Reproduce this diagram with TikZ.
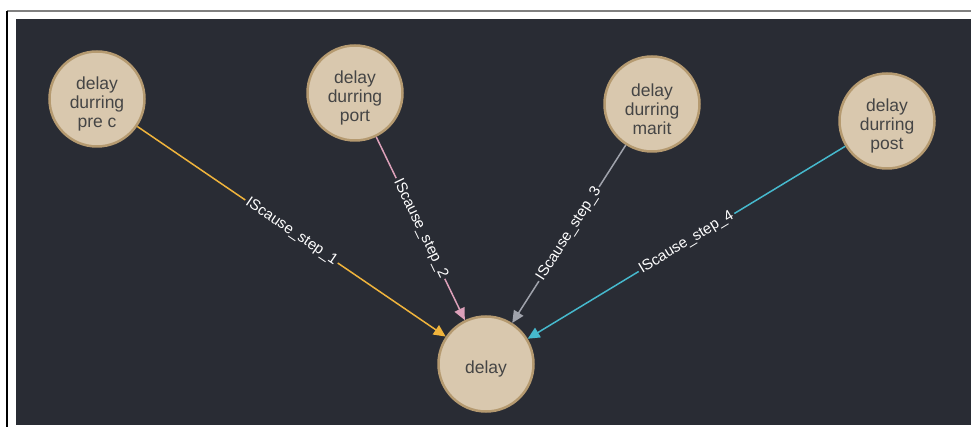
\documentclass[tikz,border=0pt]{standalone}
\usepackage{fontspec}
\setmainfont{Liberation Sans}
\usetikzlibrary{arrows.meta}
\definecolor{bgc}{HTML}{292C34}
\definecolor{nodefill}{HTML}{D9C8AE}
\definecolor{nodeborder}{HTML}{B59A70}
\definecolor{nodetext}{HTML}{454545}
\definecolor{ecyel}{HTML}{F0B43C}
\definecolor{ecpink}{HTML}{DCA0B9}
\definecolor{ecgray}{HTML}{A0A3AC}
\definecolor{eccyan}{HTML}{46B9CD}
\definecolor{framegray}{HTML}{808080}
\newcommand{\mytopstrut}{\rule{0pt}{22.5pt}}
\tikzset{
  gnode/.style={circle, minimum size=95pt, inner sep=0pt, draw=nodeborder, line width=2.5pt,
    fill=nodefill, text=nodetext, align=center, font=\fontsize{17.5}{19}\selectfont},
  gedge/.style={line width=1.5pt, -{Triangle[length=12pt,width=11pt]}},
  elabel/.style={sloped, fill=bgc, text=white, inner sep=2pt, font=\fontsize{15}{15}\selectfont}
}
\begin{document}
\begin{tikzpicture}[x=1pt,y=-1pt]
\fill[white] (0,0) rectangle (971,427);
\useasboundingbox (0,0) rectangle (971,427);
\draw[framegray, line width=2pt] (7,11) -- (971,11);
\draw[black, line width=1.2pt] (7,11) -- (7,427);
\fill[bgc] (16,19) rectangle (971,425);

\node[gnode] (prec) at (97,99) {\mytopstrut delay\\durring\\pre c};
\node[gnode] (port) at (355,93) {\mytopstrut delay\\durring\\port};
\node[gnode] (marit) at (652,104) {\mytopstrut delay\\durring\\marit};
\node[gnode] (post) at (887,121) {\mytopstrut delay\\durring\\post};
\node[gnode] (delay) at (486,364) {\mytopstrut delay};

\draw[gedge, ecyel] (prec) -- node[elabel] {IScause\_step\_1} (delay);
\draw[gedge, ecpink] (port) -- node[elabel] {IScause\_step\_2} (delay);
\draw[gedge, ecgray] (marit) -- node[elabel] {IScause\_step\_3} (delay);
\draw[gedge, eccyan] (post) -- node[elabel] {IScause\_step\_4} (delay);
\end{tikzpicture}
\end{document}
